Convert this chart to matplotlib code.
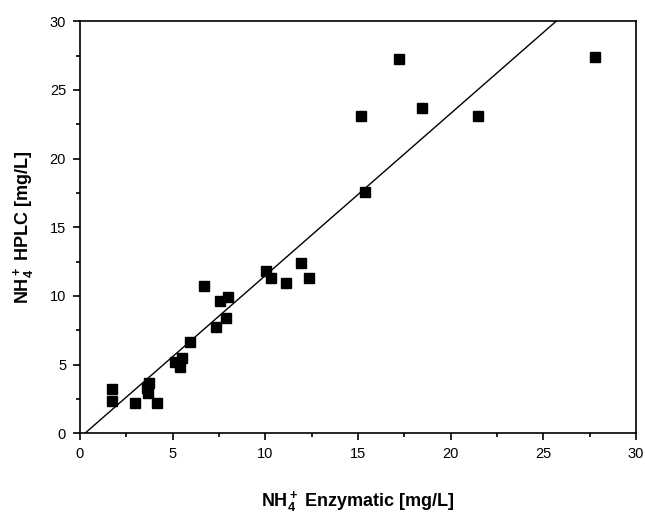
import numpy as np
import matplotlib
matplotlib.use("Agg")
import matplotlib.pyplot as plt
from matplotlib.ticker import MultipleLocator

plt.rcParams['font.family'] = ['Liberation Sans', 'DejaVu Sans']
plt.rcParams['mathtext.default'] = 'regular'

# NH4+ by enzymatic assay vs HPLC (mg/L)
enzymatic = [1.71, 1.71, 2.97, 3.75, 3.64, 3.66, 4.14, 5.14, 5.53, 5.41, 5.91,
             6.67, 7.35, 7.57, 7.98, 7.87, 10.03, 10.30, 11.12, 11.95, 12.34,
             15.19, 15.40, 17.20, 18.47, 21.49, 27.78]
hplc = [3.20, 2.35, 2.18, 3.63, 3.31, 2.90, 2.22, 5.20, 5.45, 4.84, 6.65,
        10.72, 7.70, 9.60, 9.92, 8.40, 11.81, 11.33, 10.94, 12.42, 11.33,
        23.07, 17.60, 27.28, 23.67, 23.07, 27.42]

# regression line
slope = 1.18
intercept = -0.32

fig = plt.figure(figsize=(6.45, 5.17), dpi=100)
ax = fig.add_axes([0.124, 0.162, 0.862, 0.797])

ax.plot(enzymatic, hplc, 's', color='black', markersize=7.2)
ax.axline((0, intercept), slope=slope, color='black', lw=1)

ax.set_xlim(0, 30)
ax.set_ylim(0, 30)
ax.xaxis.set_major_locator(MultipleLocator(5))
ax.yaxis.set_major_locator(MultipleLocator(5))
ax.xaxis.set_minor_locator(MultipleLocator(2.5))
ax.yaxis.set_minor_locator(MultipleLocator(2.5))
ax.tick_params(which='major', direction='out', length=5, width=1.2,
               labelsize=10.5, pad=5)
ax.tick_params(which='minor', direction='out', length=3, width=1.2)
for s in ax.spines.values():
    s.set_linewidth(1.2)

ax.set_xlabel('NH$_4^+$ Enzymatic [mg/L]', fontsize=13, fontweight='bold', labelpad=20)
ax.set_ylabel('NH$_4^+$ HPLC [mg/L]', fontsize=13, fontweight='bold', labelpad=10)

fig.savefig('out.png', dpi=100)
